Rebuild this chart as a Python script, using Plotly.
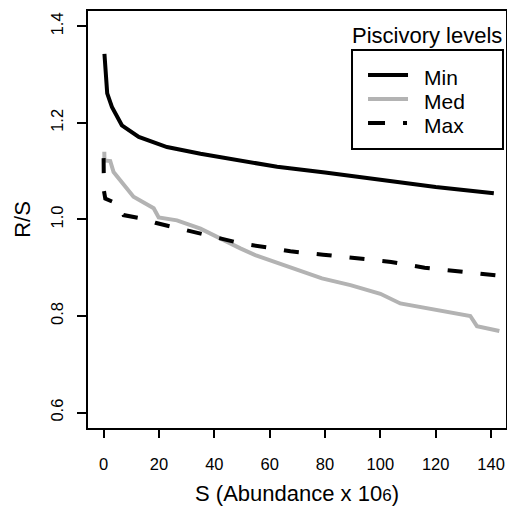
import plotly.graph_objects as go

# Data
min_s = [0.3, 1.0, 1.3, 3.0, 4.8, 6.6, 12.7, 22.9, 35.0, 54.8, 62.7, 80.0, 100.0, 120.0, 141.0]
min_rs = [1.343, 1.288, 1.261, 1.233, 1.212, 1.195, 1.171, 1.150, 1.136, 1.118, 1.109, 1.097, 1.081, 1.067, 1.054]

med_s = [0.25, 0.3, 2.4, 3.6, 10.8, 18.1, 19.9, 26.5, 35.0, 42.2, 49.4, 54.8, 69.3, 78.9, 89.2, 100.0, 107.2, 132.5, 134.9, 143.0]
med_rs = [1.140, 1.122, 1.121, 1.098, 1.047, 1.023, 1.004, 0.998, 0.981, 0.960, 0.940, 0.926, 0.898, 0.878, 0.864, 0.846, 0.826, 0.800, 0.779, 0.769]

max_s = [0.0, 0.1, 0.6, 4.8, 7.2, 13.9, 18.7, 25.9, 30.7, 37.4, 50.0, 61.4, 67.5, 79.3, 91.6, 103.9, 116.0, 128.3, 142.0]
max_rs = [1.127, 1.060, 1.043, 1.033, 1.009, 1.002, 0.993, 0.983, 0.978, 0.967, 0.950, 0.940, 0.934, 0.927, 0.919, 0.912, 0.900, 0.893, 0.884]

x_ticks = [0, 20, 40, 60, 80, 100, 120, 140]
y_ticks = [0.6, 0.8, 1.0, 1.2, 1.4]
y_tick_labels = ["0.6", "0.8", "1.0", "1.2", "1.4"]

series_names = ["Min", "Med", "Max"]
legend_title = "Piscivory levels"

FONT = "Liberation Sans, Arial, Helvetica, sans-serif"
GRAY = "#b3b3b3"

styles = [
    dict(color="black", width=4),
    dict(color=GRAY, width=4),
    dict(color="black", width=4, dash="15px,18px"),
]
legend_styles = [
    dict(color="black", width=4),
    dict(color=GRAY, width=4),
    dict(color="black", width=4, dash="17px,18px,4px,20px"),
]

fig = go.Figure()
for xs, ys, name, st in zip([min_s, med_s, max_s], [min_rs, med_rs, max_rs], series_names, styles):
    fig.add_trace(go.Scatter(x=xs, y=ys, mode="lines", name=name, line=st, showlegend=False))

# Legend drawn in the base-R style: title above a bordered box
shapes = [dict(type="rect", xref="paper", yref="paper",
               x0=0.6316, x1=0.9928, y0=0.6691, y1=0.9065,
               line=dict(color="black", width=2), fillcolor="white", layer="above")]
annotations = [dict(text=legend_title, xref="paper", yref="paper",
                    x=0.627, y=0.942, xanchor="left", yanchor="middle", height=26,
                    showarrow=False, font=dict(size=22, family=FONT, color="black"))]
row_line_y = [0.8465, 0.7890, 0.7314]
row_text_y = [0.8417, 0.7842, 0.7266]
for name, st, ly, ty in zip(series_names, legend_styles, row_line_y, row_text_y):
    shapes.append(dict(type="line", xref="paper", yref="paper",
                       x0=0.6699, x1=0.7656, y0=ly, y1=ly, line=st, layer="above"))
    annotations.append(dict(text=name, xref="paper", yref="paper",
                            x=0.8000, y=ty, xanchor="left", yanchor="middle", height=22,
                            showarrow=False, font=dict(size=21, family=FONT, color="black")))

# page body has an 8px margin, so the figure is sized 8px smaller
fig.update_layout(
    width=507, height=498,
    margin=dict(l=80, r=9, t=3, b=78, autoexpand=False),
    paper_bgcolor="white", plot_bgcolor="white",
    font=dict(family=FONT, color="black", size=22),
    showlegend=False,
    shapes=shapes,
    annotations=annotations,
)

fig.update_xaxes(
    range=[-5.64, 145.4], tickvals=x_ticks, ticks="outside", ticklen=8,
    tickwidth=1.5, tickcolor="black", showgrid=False, zeroline=False,
    showline=True, linecolor="black", linewidth=1.5, mirror=True,
    tickfont=dict(size=16.5, family=FONT), ticklabelstandoff=12,
    title=dict(text='S (Abundance x 10<span style="font-size:17px">6</span>)',
               font=dict(size=22, family=FONT), standoff=15),
)
fig.update_yaxes(
    range=[0.568, 1.4317], tickvals=y_ticks, ticktext=y_tick_labels,
    ticks="outside", ticklen=9, tickwidth=1.5, tickcolor="black",
    showgrid=False, zeroline=False, showline=True, linecolor="black",
    linewidth=1.5, mirror=True, tickangle=-90,
    tickfont=dict(size=16.5, family=FONT), ticklabelstandoff=8,
    title=dict(text="R/S", font=dict(size=22, family=FONT), standoff=11),
)

fig.write_html("out.html")
